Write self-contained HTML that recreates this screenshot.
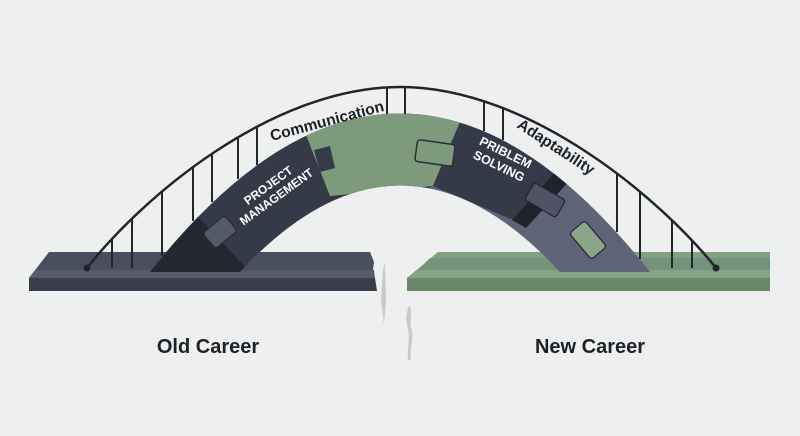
<!DOCTYPE html>
<html><head><meta charset="utf-8"><style>
html,body{margin:0;padding:0;background:#eef0f0;}
svg{display:block;}
text{font-family:"Liberation Sans",sans-serif;font-weight:bold;}
</style></head><body>
<svg width="800" height="436" viewBox="0 0 800 436" xmlns="http://www.w3.org/2000/svg">
<rect width="800" height="436" fill="#eef0f0"/>
<defs>
<clipPath id="arch">
<path d="M150,272 Q400,-45 650,272 L560,272 Q400,99 240,272 Z"/>
</clipPath>
<clipPath id="under">
<path d="M87,268 C140,200 270,87 400,87 C530,87 662,200 716,268 Z"/>
</clipPath>
</defs>
<!-- left platform -->
<polygon points="49,252 370,252 374,262 372,278 29,278" fill="#4a4f5f"/>
<polygon points="35,270 374,270 375,278 29,278" fill="#575c6d"/>
<polygon points="29,278 375,278 377,291 29,291" fill="#393d4a"/>
<!-- right platform -->
<polygon points="438,252 770,252 770,278 407,278" fill="#82a082"/>
<polygon points="430,258 770,258 770,270 418,270" fill="#75927a"/>
<polygon points="418,270 770,270 770,278 407,278" fill="#87a387"/>
<rect x="407" y="278" width="363" height="13" fill="#6a876a"/>
<!-- crack -->
<path d="M383,270 L385,262 L386,300 L384,325 L381,300 Z" fill="#c8cacc"/>
<path d="M409,305 C414,312 408,322 412,330 C414,340 409,350 411,360 L408,360 C407,345 411,338 407,325 C405,315 408,310 409,305 Z" fill="#c8cacc"/>
<!-- arch -->
<g clip-path="url(#arch)">
<rect x="140" y="100" width="520" height="180" fill="#5e6376"/>
<polygon points="140,272 140,100 462,100 462,122 433,186 250,272" fill="#353a49"/>
<polygon points="306,100 460,100 460,122 433,186 330,196 306,135" fill="#7d9a7c"/>
<polygon points="140,272 140,180 197,216 250,272" fill="#23272f"/>
<polygon points="462,100 700,100 700,176 563,176 518,222 433,186 460,122" fill="#353a49"/>
<polygon points="557,170 572,178 526,228 512,220" fill="#1f232b"/>
</g>
<!-- PM tab on green -->
<path d="M314,150 L330,146 L335,168 L320,172 Z" fill="#363b4a"/>
<!-- green tab -->
<rect x="416" y="142" width="38" height="22" rx="3" fill="#7d9a7c" stroke="#2a2e38" stroke-width="1.5" transform="rotate(8 435 153)"/>
<!-- PM tab -->
<rect x="206" y="222" width="28" height="20" rx="3" fill="#555a6a" stroke="#23272f" stroke-width="1" transform="rotate(-40 220 232)"/>
<!-- PS tab -->
<rect x="527" y="190" width="36" height="20" rx="3" fill="#4e5466" stroke="#1f232b" stroke-width="1.2" transform="rotate(30 545 200)"/>
<!-- green small -->
<rect x="571" y="230" width="34" height="20" rx="3" fill="#8aa58a" stroke="#23272f" stroke-width="1.2" transform="rotate(50 588 240)"/>
<!-- railing verticals -->
<g stroke="#22252d" stroke-width="2" clip-path="url(#under)">
<line x1="112" y1="60" x2="112" y2="272"/>
<line x1="132" y1="60" x2="132" y2="272"/>
<line x1="162" y1="60" x2="162" y2="256"/>
<line x1="193" y1="60" x2="193" y2="221"/>
<line x1="212" y1="60" x2="212" y2="202"/>
<line x1="238" y1="60" x2="238" y2="179"/>
<line x1="257" y1="60" x2="257" y2="165"/>
<line x1="387" y1="60" x2="387" y2="114"/>
<line x1="405" y1="60" x2="405" y2="114"/>
<line x1="484" y1="60" x2="484" y2="131"/>
<line x1="503" y1="60" x2="503" y2="140"/>
<line x1="617" y1="60" x2="617" y2="232"/>
<line x1="640" y1="60" x2="640" y2="259"/>
<line x1="672" y1="60" x2="672" y2="272"/>
<line x1="692" y1="60" x2="692" y2="272"/>
</g>
<path d="M87,268 C140,200 270,87 400,87 C530,87 662,200 716,268" fill="none" stroke="#22252d" stroke-width="2.5"/>
<circle cx="87" cy="268" r="3.5" fill="#22252d"/>
<circle cx="716" cy="268" r="3.5" fill="#22252d"/>
<!-- labels on arch -->
<text x="327" y="126" font-size="15.5" fill="#1d2027" text-anchor="middle" transform="rotate(-15 327 121)">Communication</text>
<text x="556" y="152" font-size="15.5" fill="#1d2027" text-anchor="middle" transform="rotate(33 556 147)">Adaptability</text>
<text font-size="12" fill="#ffffff" text-anchor="middle" transform="translate(273,192) rotate(-36)"><tspan x="0" y="-4">PROJECT</tspan><tspan x="0" y="10">MANAGEMENT</tspan></text>
<text font-size="12.5" fill="#ffffff" text-anchor="middle" transform="translate(502,160) rotate(26)"><tspan x="0" y="-4">PRIBLEM</tspan><tspan x="0" y="11">SOLVING</tspan></text>
<!-- bottom labels -->
<text x="208" y="353" font-size="20" fill="#1d2027" text-anchor="middle">Old Career</text>
<text x="590" y="353" font-size="20" fill="#1d2027" text-anchor="middle">New Career</text>
</svg>
</body></html>
